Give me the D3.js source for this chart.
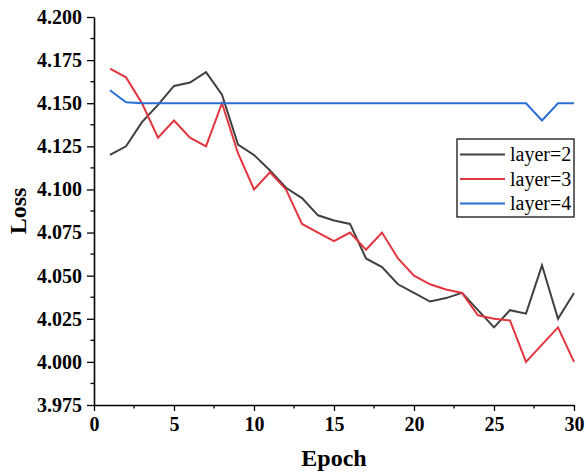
<!DOCTYPE html>
<html>
<head>
<meta charset="utf-8">
<script src="https://cdn.jsdelivr.net/npm/d3@7"></script>
<style>
  body { margin: 0; background: #fff; }
  text { font-family: "Liberation Serif", "Times New Roman", serif; }
</style>
</head>
<body>
<svg id="chart" width="586" height="475"></svg>
<script>
const epochs = d3.range(1, 31);
const layer2 = [4.120, 4.125, 4.139, 4.149, 4.160, 4.162, 4.168, 4.155, 4.126, 4.120,
                4.111, 4.101, 4.095, 4.085, 4.082, 4.080, 4.060, 4.055, 4.045, 4.040,
                4.035, 4.037, 4.040, 4.030, 4.020, 4.030, 4.028, 4.056, 4.025, 4.040];
const layer3 = [4.170, 4.165, 4.150, 4.130, 4.140, 4.130, 4.125, 4.150, 4.121, 4.100,
                4.110, 4.100, 4.080, 4.075, 4.070, 4.075, 4.065, 4.075, 4.060, 4.050,
                4.045, 4.042, 4.040, 4.027, 4.025, 4.024, 4.000, 4.010, 4.020, 4.000];
const layer4 = [4.1575, 4.1505, 4.150, 4.150, 4.150, 4.150, 4.150, 4.150, 4.150, 4.150,
                4.150, 4.150, 4.150, 4.150, 4.150, 4.150, 4.150, 4.150, 4.150, 4.150,
                4.150, 4.150, 4.150, 4.150, 4.150, 4.150, 4.150, 4.140, 4.150, 4.150];
const seriesNames = ['layer=2', 'layer=3', 'layer=4'];
const seriesColors = ['#404040', '#e2353d', '#2a6fd5'];
const xTicks = [0, 5, 10, 15, 20, 25, 30];
const yTicks = [3.975, 4.000, 4.025, 4.050, 4.075, 4.100, 4.125, 4.150, 4.175, 4.200];

const series = [layer2, layer3, layer4].map((vals, i) => ({
  name: seriesNames[i],
  color: seriesColors[i],
  values: vals.map((v, j) => ({ x: epochs[j], y: v }))
}));

const svg = d3.select('#chart');
const margin = { top: 17, right: 12, bottom: 70, left: 94 };
const width = 586 - margin.left - margin.right;
const height = 475 - margin.top - margin.bottom;

const g = svg.append('g').attr('transform', `translate(${margin.left},${margin.top})`);

const x = d3.scaleLinear().domain([0, 30]).range([0, width]);
const y = d3.scaleLinear().domain([3.975, 4.200]).range([height, 0]);

// minor ticks
const xMinor = d3.range(2.5, 30, 5);
const yMinor = d3.range(3.9875, 4.2, 0.025);

g.selectAll('.xminor').data(xMinor).enter().append('line')
  .attr('x1', d => x(d)).attr('x2', d => x(d))
  .attr('y1', height).attr('y2', height + 3.5)
  .attr('stroke', '#000').attr('stroke-width', 1.3);

g.selectAll('.yminor').data(yMinor).enter().append('line')
  .attr('x1', 0).attr('x2', -3.5)
  .attr('y1', d => y(d)).attr('y2', d => y(d))
  .attr('stroke', '#000').attr('stroke-width', 1.3);

const xAxis = g.append('g')
  .attr('transform', `translate(0,${height})`)
  .call(d3.axisBottom(x).tickValues(xTicks).tickSize(6).tickSizeOuter(0).tickPadding(6));

const yAxis = g.append('g')
  .call(d3.axisLeft(y).tickValues(yTicks).tickFormat(d3.format('.3f')).tickSize(7).tickSizeOuter(0).tickPadding(5));

[xAxis, yAxis].forEach(a => {
  a.attr('font-family', '"Liberation Serif", "Times New Roman", serif');
  a.select('.domain').attr('stroke', '#000').attr('stroke-width', 1.6);
  a.selectAll('.tick line').attr('stroke', '#000').attr('stroke-width', 1.3);
  a.selectAll('.tick text')
    .attr('font-size', 20)
    .attr('font-weight', 'bold')
    .attr('fill', '#000');
});

const line = d3.line().x(d => x(d.x)).y(d => y(d.y));

series.forEach(s => {
  g.append('path')
    .datum(s.values)
    .attr('fill', 'none')
    .attr('stroke', s.color)
    .attr('stroke-width', 2)
    .attr('stroke-linejoin', 'miter')
    .attr('d', line);
});

// axis titles
svg.append('text')
  .attr('x', margin.left + width / 2)
  .attr('y', 466)
  .attr('text-anchor', 'middle')
  .attr('font-size', 24)
  .attr('font-weight', 'bold')
  .text('Epoch');

svg.append('text')
  .attr('transform', `translate(26,${margin.top + height / 2}) rotate(-90)`)
  .attr('text-anchor', 'middle')
  .attr('font-size', 24)
  .attr('font-weight', 'bold')
  .text('Loss');

// legend
const legend = svg.append('g').attr('transform', 'translate(457,139)');
legend.append('rect')
  .attr('width', 117).attr('height', 78)
  .attr('fill', '#fff').attr('stroke', '#000').attr('stroke-width', 1.2);

series.forEach((s, i) => {
  const cy = 15.5 + i * 24.5;
  legend.append('line')
    .attr('x1', 3).attr('x2', 48)
    .attr('y1', cy).attr('y2', cy)
    .attr('stroke', s.color).attr('stroke-width', 2);
  legend.append('text')
    .attr('x', 53).attr('y', cy + 6.5)
    .attr('font-size', 20)
    .text(s.name);
});
</script>
</body>
</html>
